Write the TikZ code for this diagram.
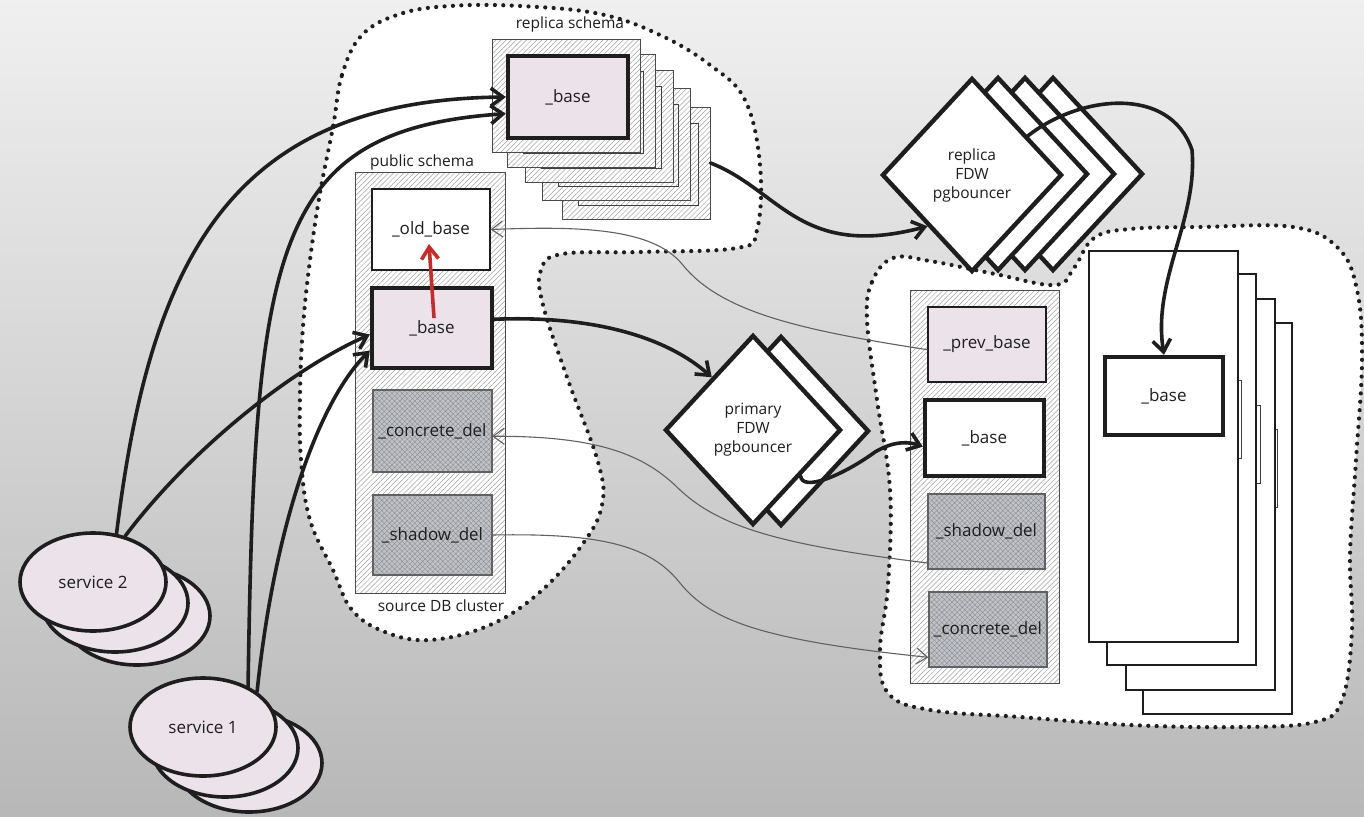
\documentclass[tikz,border=0pt]{standalone}
\usepackage{fontspec}
\setmainfont{Open Sans}
\usetikzlibrary{shapes.geometric,arrows.meta,patterns.meta}
\definecolor{ink}{HTML}{1E1E1E}
\definecolor{pinkfill}{HTML}{ECE3EA}
\definecolor{slatefill}{HTML}{BFC2C8}
\definecolor{hatchgray}{HTML}{A0A0A0}
\definecolor{redink}{HTML}{C92A2A}
\begin{document}
\begin{tikzpicture}[x=1pt,y=-1pt,
  every node/.style={font=\fontsize{17}{20}\selectfont, text=ink},
  lbl/.style={font=\fontsize{15.5}{18}\selectfont, inner sep=1pt},
  dotblob/.style={fill=white, draw=ink, line width=4.2pt, dash pattern=on 0pt off 8.4pt, line cap=round},
  hatchbox/.style={rectangle, draw=ink!80, line width=1pt, inner sep=0pt,
    preaction={fill=white}, pattern={Lines[angle=45,distance=3.6pt,line width=0.5pt]}, pattern color=hatchgray},
  plainbox/.style={rectangle, draw=ink, line width=1.4pt, fill=white, inner sep=0pt},
  boldbox/.style={rectangle, draw=ink, line width=4.4pt, fill=white, inner sep=0pt},
  xhatchbox/.style={rectangle, draw=ink!70, line width=1.3pt, inner sep=0pt,
    preaction={fill=slatefill}, pattern={Hatch[angle=45,distance=3.6pt,line width=0.4pt]}, pattern color=ink!50},
  innerline/.style={rectangle, draw=ink!85, line width=1pt, inner sep=0pt},
  tallcard/.style={rectangle, draw=ink, line width=1.1pt, fill=white, inner sep=0pt,
    minimum width=149pt, minimum height=391pt},
  fdw/.style={diamond, draw=ink, line width=4.4pt, fill=white, inner sep=0pt, align=center,
    font=\fontsize{15.5}{19}\selectfont},
  svc/.style={ellipse, draw=ink, line width=3.6pt, fill=pinkfill, minimum width=146pt, minimum height=98pt},
  conn/.style={draw=ink, line width=3.6pt, line cap=round, -{Straight Barb[length=12pt,width=18pt]}},
  thinconn/.style={draw=ink!70, line width=1.1pt, -{Straight Barb[length=11pt,width=16pt]}},
  redconn/.style={draw=redink, line width=3.6pt, -{Straight Barb[length=12pt,width=17pt]}}
]
\useasboundingbox (0,0) rectangle (1364,816);
% backdrop
\fill[top color=gray!12, bottom color=gray!56] (0,0) rectangle (1364,816);

% source cluster outline
\path[dotblob] plot[smooth cycle, tension=0.65] coordinates {
  (333,127) (342,75) (362,35) (400,14) (450,6) (520,6) (600,14) (660,35) (710,65)
  (745,100) (760,165) (757,230) (737,248) (640,252) (562,254) (541,270) (543,305)
  (568,380) (598,462) (602,505) (582,545) (540,592) (490,625) (430,640) (385,632)
  (352,610) (333,570) (310,520) (301,460) (300,393) (303,327) (310,260) (320,193)};

% target cluster outline
\path[dotblob] plot[smooth cycle, tension=0.65] coordinates {
  (867,320) (872,282) (893,258) (930,261) (995,274) (1055,285) (1074,268) (1094,238)
  (1130,229) (1200,227) (1293,227) (1338,248) (1357,290) (1362,360) (1356,460)
  (1350,555) (1352,630) (1342,700) (1315,722) (1240,727) (1130,725) (1020,717)
  (930,710) (888,693) (880,650) (888,585) (890,490) (877,400)};

% public schema
\node[hatchbox, minimum width=150pt, minimum height=421pt] (pubschema) at (430,382.5) {};
\node[lbl] (lblpub) at (422,162) {public schema};
\node[lbl] (lblsrc) at (441,606) {source DB cluster};
\node[plainbox, minimum width=118pt, minimum height=81pt] (oldbase) at (431,229.5) {\_old\_base};
\node[boldbox, fill=pinkfill, minimum width=120pt, minimum height=80pt] (srcbase) at (432,328) {\_base};
\node[xhatchbox, minimum width=119pt, minimum height=82pt] (srccdel) at (432.5,431) {\_concrete\_del};
\node[xhatchbox, minimum width=119pt, minimum height=80pt] (srcsdel) at (432.5,535) {\_shadow\_del};

% replica schema stack
\node[lbl] (lblrep) at (570,24) {replica schema};
\foreach \n/\dx/\dy in {4/70/67,3/50/48,2/33/30,1/15/15} {
  \node[hatchbox, minimum width=148pt, minimum height=112pt] (rlay\n) at (566+\dx,96+\dy) {};
  \node[innerline, minimum width=120pt, minimum height=82pt] (rin\n) at (568+\dx,97+\dy) {};
}
\node[hatchbox, minimum width=148pt, minimum height=112pt] (rlay0) at (566,96) {};
\node[boldbox, fill=pinkfill, minimum width=120pt, minimum height=82pt] (rbase) at (568,97) {\_base};

% target schema
\node[hatchbox, minimum width=149pt, minimum height=393pt] (dstschema) at (984.5,486.5) {};
\node[plainbox, fill=pinkfill, line width=1.1pt, minimum width=118pt, minimum height=75pt] (prevbase) at (987,344.5) {\_prev\_base};
\node[boldbox, minimum width=119pt, minimum height=76pt] (dstbase) at (984.5,438) {\_base};
\node[xhatchbox, minimum width=117pt, minimum height=75pt] (dstsdel) at (986.5,531.5) {\_shadow\_del};
\node[xhatchbox, minimum width=118pt, minimum height=75pt] (dstcdel) at (988,629.5) {\_concrete\_del};

% target shards
\foreach \n/\dx/\dy in {3/54/72,2/37/48,1/18/23} {
  \node[tallcard] (tcard\n) at (1163.5+\dx,446.5+\dy) {};
  \node[innerline, minimum width=118pt, minimum height=78pt] (tin\n) at (1164+\dx,396+\dy) {};
}
\node[tallcard] (tcard0) at (1163.5,446.5) {};
\node[boldbox, minimum width=118pt, minimum height=78pt] (tbase) at (1164,396) {\_base};

% replica pgbouncers
\foreach \n/\cx in {3/1053,2/1025,1/998} {
  \node[fdw, minimum width=180pt, minimum height=194pt] (rfdw\n) at (\cx,174) {};
}
\node[fdw, minimum width=180pt, minimum height=194pt] (rfdw) at (972,175) {replica\\FDW\\pgbouncer};

% primary pgbouncers
\node[fdw, minimum width=176pt, minimum height=190pt] (pfdw1) at (781,431) {};
\node[fdw, minimum width=176pt, minimum height=190pt] (pfdw) at (753,430) {primary\\FDW\\pgbouncer};

% services
\node[svc] (svcb2) at (137,616) {};
\node[svc] (svcb1) at (115,603) {};
\node[svc] (svcb) at (93,582) {service 2};
\node[svc] (svca2) at (249,763) {};
\node[svc] (svca1) at (225,748) {};
\node[svc] (svca) at (203,727) {service 1};

% thin sync links
\draw[thinconn] (prevbase.185) .. controls (800,330) and (720,312) .. (682,264)
  .. controls (652,228) and (580,226) .. (oldbase.east);
\draw[thinconn] (dstsdel.208) .. controls (780,545) and (720,527) .. (680,490)
  .. controls (645,455) and (600,436) .. (srccdel.-5);
\draw[thinconn] (srcsdel.east) .. controls (600,533) and (650,545) .. (680,583)
  .. controls (710,620) and (760,640) .. (dstcdel.205);

% service traffic
\draw[conn] (svcb.64) .. controls (150,260) and (230,100) .. (rbase.west);
\draw[conn] (svcb.55) .. controls (190,450) and (290,370) .. (srcbase.186);
\draw[conn] (svca.42) .. controls (255,250) and (270,130) .. (rbase.195);
\draw[conn] (svca.33) .. controls (275,520) and (320,400) .. (srcbase.200);

% routing through pgbouncers
\draw[conn] (srcbase.8) .. controls (600,315) and (670,340) .. (pfdw.128);
\draw[conn] (rlay4.east) .. controls (780,190) and (800,260) .. (rfdw.229);
\draw[conn] (rfdw.35) .. controls (1080,95) and (1170,85) .. (1192,150)
  .. controls (1198,220) and (1152,280) .. (tbase.north);
\draw[conn] (pfdw.-44) .. controls (802,492) and (842,476) .. (875,452)
  .. controls (895,440) and (910,442) .. (dstbase.188);

% rename step
\coordinate (redtail) at (434,318);
\coordinate (redtip) at (429,244);
\draw[redconn] (redtail) -- (redtip);
\end{tikzpicture}
\end{document}
